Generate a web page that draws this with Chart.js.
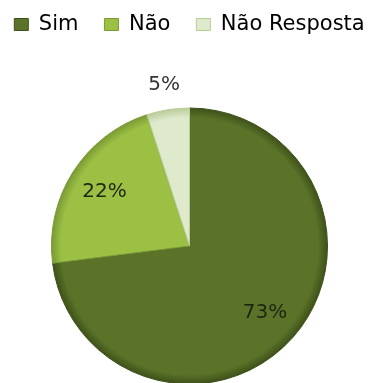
<!DOCTYPE html>
<html>
<head>
<meta charset="utf-8">
<script src="https://cdn.jsdelivr.net/npm/chart.js@4"></script>
<style>
  html, body { margin: 0; padding: 0; background: #fff; }
  #wrap { width: 379px; height: 383px; }
</style>
</head>
<body>
<div id="wrap"><canvas id="pie"></canvas></div>
<script>
// answers
var categories = ['Sim', 'Não', 'Não Resposta'];
var percents = [73, 22, 5];
var colors = ['#5a7328', '#9bc044', '#dfe9cc'];
var edgeColors = ['#3e511a', '#7a9a34', '#b9cc98'];

var FONT = '"DejaVu Sans", Verdana, sans-serif';
var RADIUS = 138;

// flat fill with a darker rim, a bit like the office bevel
function sliceFill(c) {
  var i = c.dataIndex;
  var area = c.chart.chartArea;
  if (!area) return colors[i];
  var cx = (area.left + area.right) / 2;
  var cy = (area.top + area.bottom) / 2;
  var g = c.chart.ctx.createRadialGradient(cx, cy, 0, cx, cy, RADIUS);
  g.addColorStop(0, colors[i]);
  g.addColorStop(0.93, colors[i]);
  g.addColorStop(1, edgeColors[i]);
  return g;
}

// keep the pie pushed down below the legend
var legendGap = {
  id: 'legendGap',
  beforeInit: function(chart) {
    var fit = chart.legend.fit;
    chart.legend.fit = function() {
      fit.bind(chart.legend)();
      this.height = 121;
    };
  }
};

// percent labels, inside the big slices, outside the small one
var pctLabels = {
  id: 'pctLabels',
  afterDatasetsDraw: function(chart) {
    var ctx = chart.ctx;
    var meta = chart.getDatasetMeta(0);
    ctx.save();
    ctx.font = '20px ' + FONT;
    ctx.textAlign = 'center';
    ctx.textBaseline = 'middle';
    meta.data.forEach(function(arc, i) {
      var p = arc.getProps(['x', 'y', 'startAngle', 'endAngle', 'outerRadius'], true);
      var mid = (p.startAngle + p.endAngle) / 2;
      var outside = percents[i] < 10;
      var r = p.outerRadius * (outside ? 1.18 : 0.73);
      ctx.fillStyle = outside ? '#333' : '#1e2612';
      ctx.fillText(percents[i] + '%', p.x + Math.cos(mid) * r, p.y + Math.sin(mid) * r);
    });
    ctx.restore();
  }
};

var ctx = document.getElementById('pie').getContext('2d');
var chart = new Chart(ctx, {
  type: 'pie',
  data: {
    labels: categories,
    datasets: [{
      data: percents,
      backgroundColor: sliceFill,
      borderColor: edgeColors,
      borderWidth: 1
    }]
  },
  options: {
    responsive: true,
    maintainAspectRatio: false,
    animation: false,
    radius: RADIUS,
    // legend runs almost edge to edge
    layout: { padding: { top: -12, left: -15, right: -15 } },
    plugins: {
      legend: {
        position: 'top',
        labels: {
          boxWidth: 14,
          boxHeight: 12,
          padding: 26,
          color: '#333',
          font: { family: FONT, size: 21 },
          generateLabels: function(c) {
            return categories.map(function(name, i) {
              return {
                text: name,
                fillStyle: colors[i],
                strokeStyle: edgeColors[i],
                lineWidth: 1,
                index: i
              };
            });
          }
        }
      },
      tooltip: { enabled: false }
    }
  },
  plugins: [legendGap, pctLabels]
});
</script>
</body>
</html>
